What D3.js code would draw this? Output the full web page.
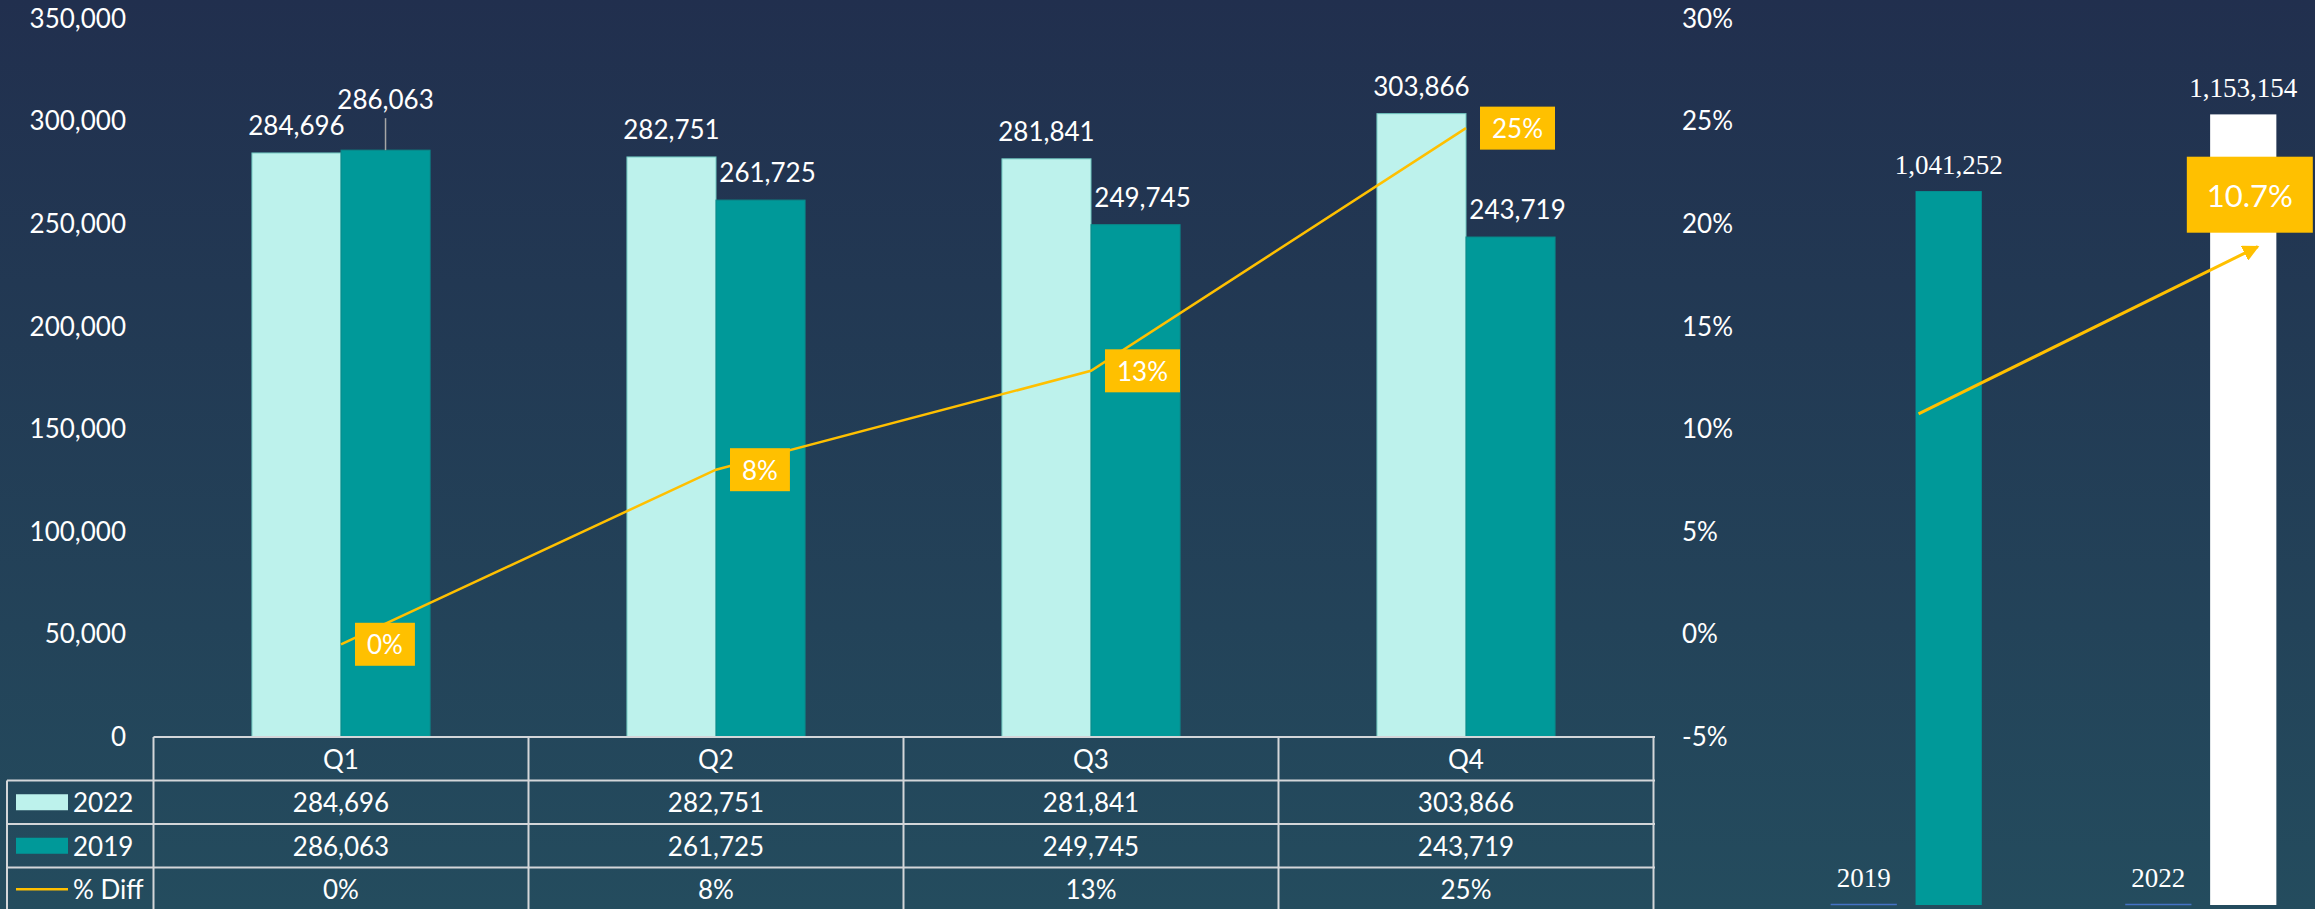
<!DOCTYPE html>
<html>
<head>
<meta charset="utf-8">
<script src="https://cdn.jsdelivr.net/npm/d3@7"></script>
<style>
  html, body { margin: 0; padding: 0; background: #22304f; }
  svg { display: block; }
  text { font-family: Lato, 'Open Sans', sans-serif; fill: #ffffff; }
  .serif { font-family: 'Liberation Serif', 'DejaVu Serif', serif; }
</style>
</head>
<body>
<svg id="chart" width="2315" height="909"></svg>
<script>
// MARK: Data.

const quarters    = ['Q1', 'Q2', 'Q3', 'Q4']
const seriesNames = ['2022', '2019']
const values2022  = [284696, 282751, 281841, 303866]
const values2019  = [286063, 261725, 249745, 243719]
const pctDiff     = [-0.0048, 0.0803, 0.1285, 0.2468]
const pctLabels   = ['0%', '8%', '13%', '25%']
const leftTicks   = [0, 50000, 100000, 150000, 200000, 250000, 300000, 350000]
const rightTicks  = [-0.05, 0, 0.05, 0.10, 0.15, 0.20, 0.25, 0.30]

const years       = ['2019', '2022']
const yearTotals  = [1041252, 1153154]
const totalDiff   = '10.7%'
const arrowPct    = [0.1075, 0.189]

// MARK: Some constants.

const W = 2315
const H = 909
const COLORS = {
  '2022': '#bdf2ec',
  '2019': '#009999',
  line  : '#ffc000',
  grid  : '#d3d6d9',
  under : '#4472c4',
}
const FONT = 26
const SERIF_FONT = 27

const svg = d3.select('#chart')

// Background gradient, dark navy at top to blue-teal at bottom.
const defs = svg.append('defs')
const grad = defs.append('linearGradient')
  .attr('id', 'bg').attr('x1', 0).attr('y1', 0).attr('x2', 0).attr('y2', 1)
grad.append('stop').attr('offset', '0%').attr('stop-color', '#212f4e')
grad.append('stop').attr('offset', '100%').attr('stop-color', '#244c5e')
defs.append('marker')
  .attr('id'          , 'arrow')
  .attr('viewBox'     , '0 0 10 10')
  .attr('refX'        , 9)
  .attr('refY'        , 5)
  .attr('markerWidth' , 5.5)
  .attr('markerHeight', 5.5)
  .attr('orient'      , 'auto')
  .append('path')
  .attr('d', 'M0,0 L10,5 L0,10 z')
  .attr('fill', COLORS.line)

svg.append('rect').attr('width', W).attr('height', H).attr('fill', 'url(#bg)')

// MARK: Scales for the quarterly chart.

const x = d3.scaleBand()
  .domain(quarters)
  .range([153.5, 1653.5])
  .paddingInner(0.525)
  .paddingOuter(0.2625)
const xs = d3.scaleBand()
  .domain(seriesNames)
  .range([0, x.bandwidth()])
const y = d3.scaleLinear().domain([0, 350000]).range([737, 19])
const yPct = d3.scaleLinear().domain([-0.05, 0.30]).range([737, 19])
const fmt = d3.format(',')
// Plain hyphen for negatives, as in the original.
const fmtPct = (v) => d3.format('.0%')(v).replace('\u2212', '-')

// Left axis labels.
svg.append('g')
  .attr('transform', 'translate(126,0)')
  .call(d3.axisLeft(y).tickValues(leftTicks).tickFormat(fmt).tickSize(0).tickPadding(0))
  .call((g) => g.select('.domain').remove())
  .selectAll('text')
  .attr('font-size', FONT)
  .attr('font-family', null)
  .attr('fill', '#fff')

// Right axis labels.
svg.append('g')
  .attr('transform', 'translate(1682,0)')
  .call(d3.axisRight(yPct).tickValues(rightTicks).tickFormat(fmtPct).tickSize(0).tickPadding(0))
  .call((g) => g.select('.domain').remove())
  .selectAll('text')
  .attr('font-size', FONT)
  .attr('font-family', null)
  .attr('fill', '#fff')

// Bars.
const rows = quarters.map((q, i) => ({ q, values: [
  { key: '2022', value: values2022[i] },
  { key: '2019', value: values2019[i] },
]}))

const groups = svg.append('g').selectAll('g')
  .data(rows).enter()
  .append('g')
  .attr('transform', (d) => `translate(${x(d.q)},0)`)

groups.selectAll('rect')
  .data((d) => d.values).enter()
  .append('rect')
  .attr('x'           , (d) => xs(d.key))
  .attr('y'           , (d) => y(d.value))
  .attr('width'       , xs.bandwidth())
  .attr('height'      , (d) => y(0) - y(d.value))
  .attr('fill'        , (d) => COLORS[d.key])
  .attr('stroke'      , (d) => d.key == '2022' ? '#6fc7c0' : '#0a8a8a')
  .attr('stroke-width', 1)

// Bar value labels. Q1's 2019 label is lifted above its neighbour with a leader line.
groups.each(function (d) {
  const g = d3.select(this)
  d.values.forEach((v) => {
    const cx = xs(v.key) + xs.bandwidth() / 2
    const lifted = d.q == 'Q1' && v.key == '2019'
    const top = y(v.value)
    const ty = lifted ? top - 51 : top - 28
    if (lifted) {
      g.append('line')
        .attr('x1', cx).attr('x2', cx)
        .attr('y1', ty + 19).attr('y2', top)
        .attr('stroke', '#a6a6a6').attr('stroke-width', 1.5)
    }
    g.append('text')
      .attr('x'                , cx + (v.key == '2019' && !lifted ? 7 : 0))
      .attr('y'                , ty)
      .attr('text-anchor'      , 'middle')
      .attr('dominant-baseline', 'central')
      .attr('font-size'        , FONT)
      .text(fmt(v.value))
  })
})

// % Diff line.
const linePts = quarters.map((q, i) => ({ q, v: pctDiff[i], label: pctLabels[i] }))
svg.append('path')
  .datum(linePts)
  .attr('fill', 'none')
  .attr('stroke', COLORS.line)
  .attr('stroke-width', 2.5)
  .attr('d', d3.line()
    .x((d) => x(d.q) + x.bandwidth() / 2)
    .y((d) => yPct(d.v)))

const pctTags = svg.append('g').selectAll('g')
  .data(linePts).enter()
  .append('g')
  .attr('transform', (d) => `translate(${x(d.q) + x.bandwidth() / 2 + 14},${yPct(d.v)})`)
pctTags.append('rect').attr('fill', COLORS.line)
pctTags.append('text')
  .attr('dominant-baseline', 'central')
  .attr('font-size'        , FONT)
  .text((d) => d.label)
pctTags.each(function () {
  const g = d3.select(this)
  const w = g.select('text').node().getComputedTextLength()
  g.select('text').attr('x', 12)
  g.select('rect')
    .attr('x', 0).attr('y', -21.5)
    .attr('width', w + 24).attr('height', 43)
})

// MARK: Data table under the chart.

const tableRows = ['head', '2022', '2019', '% Diff']
const ty = d3.scaleBand().domain(tableRows).range([737, 911])
const tableLeft  = 7
const tableRight = x.range()[1] + 1.5
const table = svg.append('g')
  .attr('stroke', COLORS.grid)
  .attr('stroke-width', 2)

tableRows.forEach((r, i) => {
  table.append('line')
    .attr('x1', i == 0 ? x.range()[0] : tableLeft)
    .attr('x2', tableRight)
    .attr('y1', ty(r)).attr('y2', ty(r))
})
table.append('line')
  .attr('x1', tableLeft).attr('x2', tableLeft)
  .attr('y1', ty('2022')).attr('y2', H)
const colEdges = [x.range()[0]].concat(quarters.map((q) => x(q) + x.step() * (1 - x.paddingInner() / 2)))
colEdges.forEach((cx) => {
  table.append('line')
    .attr('x1', cx).attr('x2', cx)
    .attr('y1', ty('head')).attr('y2', H)
})

const cellText = {
  'head'  : quarters,
  '2022'  : values2022.map(fmt),
  '2019'  : values2019.map(fmt),
  '% Diff': pctLabels,
}
tableRows.forEach((r) => {
  quarters.forEach((q, i) => {
    svg.append('text')
      .attr('x'                , x(q) + x.bandwidth() / 2)
      .attr('y'                , ty(r) + ty.bandwidth() / 2)
      .attr('text-anchor'      , 'middle')
      .attr('dominant-baseline', 'central')
      .attr('font-size'        , FONT)
      .text(cellText[r][i])
  })
})

// Legend keys inside the table.
tableRows.slice(1).forEach((r) => {
  const cy = ty(r) + ty.bandwidth() / 2
  if (r == '% Diff') {
    svg.append('line')
      .attr('x1', 16).attr('x2', 68).attr('y1', cy).attr('y2', cy)
      .attr('stroke', COLORS.line).attr('stroke-width', 2.5)
  } else {
    svg.append('rect')
      .attr('x', 16).attr('y', cy - 8).attr('width', 52).attr('height', 16)
      .attr('fill', COLORS[r])
  }
  svg.append('text')
    .attr('x', 73).attr('y', cy)
    .attr('dominant-baseline', 'central')
    .attr('font-size', FONT)
    .text(r)
})

// MARK: Yearly totals panel on the right.

const x0 = d3.scaleBand()
  .domain(years)
  .range([1757, 2350])
  .paddingInner(0.487)
  .paddingOuter(0.25)
const x1 = d3.scaleBand()
  .domain(['name', 'total'])
  .range([0, x0.bandwidth()])
  .paddingInner(0.22)
const yTot = d3.scaleLinear().domain([0, 1320000]).range([905, 0])
const totalColors = ['#009999', '#ffffff']

const yearG = svg.append('g').selectAll('g')
  .data(years.map((yr, i) => ({ yr, total: yearTotals[i], color: totalColors[i] }))).enter()
  .append('g')
  .attr('transform', (d) => `translate(${x0(d.yr)},0)`)

yearG.append('rect')
  .attr('x'     , x1('total'))
  .attr('y'     , (d) => yTot(d.total))
  .attr('width' , x1.bandwidth())
  .attr('height', (d) => yTot(0) - yTot(d.total))
  .attr('fill'  , (d) => d.color)
yearG.append('text')
  .attr('class'            , 'serif')
  .attr('x'                , x1('total') + x1.bandwidth() / 2)
  .attr('y'                , (d) => yTot(d.total) - 26)
  .attr('text-anchor'      , 'middle')
  .attr('dominant-baseline', 'central')
  .attr('font-size'        , SERIF_FONT)
  .text((d) => fmt(d.total))

// Zero-height series drawn as an underline, carrying the year label.
yearG.append('line')
  .attr('x1', x1('name')).attr('x2', x1('name') + x1.bandwidth())
  .attr('y1', yTot(0) - 0.5).attr('y2', yTot(0) - 0.5)
  .attr('stroke', COLORS.under).attr('stroke-width', 1.5)
yearG.append('text')
  .attr('class'            , 'serif')
  .attr('x'                , x1('name') + x1.bandwidth() / 2)
  .attr('y'                , yTot(0) - 27)
  .attr('text-anchor'      , 'middle')
  .attr('dominant-baseline', 'central')
  .attr('font-size'        , SERIF_FONT)
  .text((d) => d.yr)

// Growth arrow between the two totals.
const ax1 = x0(years[0]) + x1('total') + 3
const ax2 = x0(years[1]) + x1('total') + x1.bandwidth() * 0.72
svg.append('line')
  .attr('x1', ax1).attr('y1', yPct(arrowPct[0]))
  .attr('x2', ax2).attr('y2', yPct(arrowPct[1]))
  .attr('stroke', COLORS.line)
  .attr('stroke-width', 3)
  .attr('marker-end', 'url(#arrow)')

const tag = svg.append('g')
  .attr('transform', `translate(${ax2 - 8},${yPct(arrowPct[1]) - 52})`)
tag.append('rect')
  .attr('x', -63).attr('y', -38).attr('width', 126).attr('height', 76)
  .attr('fill', COLORS.line)
tag.append('text')
  .attr('text-anchor', 'middle')
  .attr('dominant-baseline', 'central')
  .attr('font-size', 31)
  .text(totalDiff)
</script>
</body>
</html>
